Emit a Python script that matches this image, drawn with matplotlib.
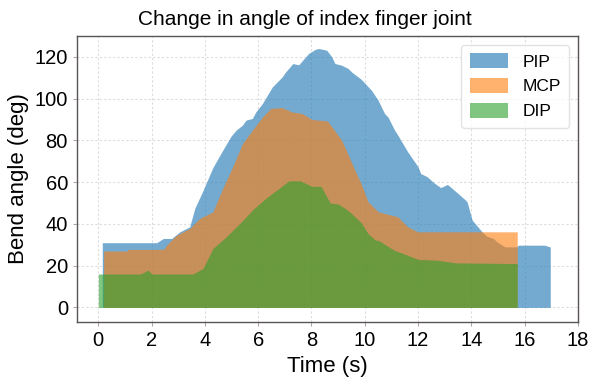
import matplotlib
matplotlib.use("Agg")
from matplotlib import pyplot as plt

plt.rcParams["font.family"] = ["Liberation Sans", "DejaVu Sans"]

# PIP joint
pip_t = [0.15, 2.19, 2.44, 2.75, 3.06, 3.43, 3.62, 3.93, 4.3, 4.67, 4.98, 5.17,
         5.41, 5.54, 5.78, 5.91, 6.16, 6.53, 6.9, 7.03, 7.3, 7.52, 7.89, 8.14,
         8.27, 8.57, 8.76, 8.88, 9.13, 9.38, 9.5, 9.87, 10.25, 10.5, 10.74,
         10.87, 11.12, 11.24, 11.61, 11.99, 12.1, 12.23, 12.35, 12.6, 12.85,
         13.1, 13.35, 13.78, 13.84, 14.03, 14.4, 14.58, 14.83, 14.96, 15.26,
         15.7, 15.76, 16.75, 16.94, 16.96]
pip_v = [31, 31, 33, 33, 36.2, 38.6, 47.4, 56, 67, 75.3, 82, 84.9,
         87.3, 89.7, 90.5, 93.6, 97.7, 105.6, 110.4, 112.8, 116.8, 116.2, 121.6, 123.6,
         124, 123.2, 120, 116.8, 116, 114.4, 112.8, 109.2, 104, 99.2, 92.9,
         91.2, 84.9, 82.5, 74.5, 67.5, 64.1, 63.3, 62.5, 59.6, 57.4,
         58.9, 56.2, 51.4, 50.5, 41.8, 36.2, 34.1, 33, 31.4, 29,
         29, 29.8, 29.8, 29, 29]

# MCP joint
mcp_t = [0.2, 1.08, 1.1, 2.45, 2.56, 2.94, 3.43, 3.8, 4.3, 4.67, 5.04, 5.41,
         5.78, 6.16, 6.47, 6.9, 7.27, 7.64, 8.02, 8.6, 8.88, 9.13, 9.38, 9.63,
         9.87, 10.12, 10.5, 10.99, 11.24, 11.36, 11.61, 11.99, 15.72]
mcp_v = [27, 27, 27.8, 27.8, 29.8, 34.6, 37.8, 42.6, 45.8, 57, 67.3, 78.5,
         84.9, 91.2, 95.3, 95.7, 93.6, 92.9, 90, 89.3, 84.5, 80.1, 73, 65.7,
         59, 50.6, 45.8, 44.2, 43.4, 41.8, 38.6, 36.2, 36.2]

# DIP joint
dip_t = [0.0, 1.58, 1.88, 2.0, 3.55, 3.93, 4.3, 4.8, 5.41, 5.78, 6.28, 6.78,
         7.15, 7.58, 8.02, 8.36, 8.7, 9.0, 9.26, 9.5, 9.87, 10.12, 10.4, 10.5,
         11.1, 11.6, 12.0, 12.73, 13.3, 13.47, 15.72]
dip_v = [16, 16, 17.9, 16, 16, 18.7, 28.2, 33.8, 41.5, 46.6, 52.2, 57,
         60.6, 60.6, 58, 58, 50, 49.5, 47.4, 45, 40.5, 35.4, 32.2, 32.2,
         27.4, 25, 23, 22.6, 21.5, 21.3, 21]

fig = plt.figure(figsize=(5.89, 3.80), dpi=100)
ax = fig.add_axes([0.1307, 0.1526, 0.8506, 0.7527])

ax.fill_between(pip_t, 0, pip_v, color="#1f77b4", alpha=0.62, lw=0, label="PIP")
ax.fill_between(mcp_t, 0, mcp_v, color="#ff7f0e", alpha=0.6, lw=0, label="MCP")
ax.fill_between(dip_t, 0, dip_v, color="#2ca02c", alpha=0.6, lw=0, label="DIP")

ax.set_xlim(-0.8, 18.0)
ax.set_ylim(-7, 130)
ax.set_xticks(range(0, 19, 2))
ax.set_yticks(range(0, 121, 20))
ax.tick_params(labelsize=14.5, length=3, color="#aaaaaa")
ax.grid(True, linestyle=(0, (2, 2)), color="#dcdcdc", lw=0.8)
ax.set_axisbelow(True)
for sp in ax.spines.values():
    sp.set_color("#5a5552")
    sp.set_linewidth(1.0)

ax.set_title("Change in angle of index finger joint", fontsize=15, x=0.455, pad=8)
ax.set_xlabel("Time (s)", fontsize=16)
ax.set_ylabel("Bend angle (deg)", fontsize=16)

leg = ax.legend(loc="upper right", fontsize=12.5, handlelength=2.2,
                handleheight=0.9, borderpad=0.5, labelspacing=0.5)
leg.get_frame().set_edgecolor("#dddddd")

fig.savefig("out.png", dpi=100)
